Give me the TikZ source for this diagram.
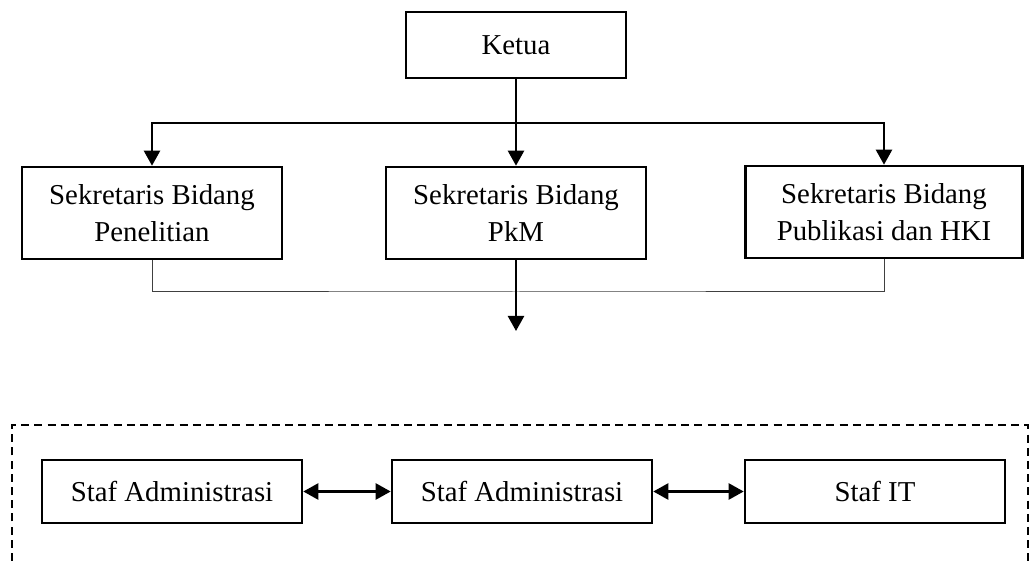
\documentclass[tikz,border=0pt]{standalone}
\usepackage{fontspec}
\setmainfont{Liberation Serif}
\usetikzlibrary{arrows.meta}
\begin{document}
\begin{tikzpicture}[x=0.5pt,y=-0.5pt,
  box/.style={draw=black, line width=1.3pt, align=center, inner sep=0pt,
    font=\fontsize{14.4}{18.5}\selectfont},
  topbox/.style={box, minimum width=110pt, minimum height=33pt},
  secbox/.style={box, minimum width=130pt, minimum height=46pt},
  stafbox/.style={box, minimum width=130pt, minimum height=31.5pt},
  arr/.style={line width=1.2pt, -{Triangle[length=7.5pt,width=8pt]}},
  biarr/.style={line width=1.2pt, {Triangle[length=7.5pt,width=8pt]}-{Triangle[length=7.5pt,width=8pt]}},
  thin/.style={line width=0.5pt, draw=black!75},
  dash box/.style={line width=0.9pt, dash pattern=on 4pt off 2.6pt}]
\useasboundingbox (0,0) rectangle (1029,561);
\node[topbox] (ketua) at (516,45) {Ketua};
\node[secbox] (s1) at (152,213) {Sekretaris Bidang\\Penelitian};
\node[secbox] (s2) at (516,213) {Sekretaris Bidang\\PkM};
\node[secbox, minimum width=138.5pt] (s3) at (884,212) {Sekretaris Bidang\\Publikasi dan HKI};
\coordinate (j) at (516,123);
\draw[line width=1.2pt] (ketua.south) -- (j);
\draw[arr] (j) -| (s1.north);
\draw[arr] (j) -- (s2.north);
\draw[arr] (j) -| (s3.north);
\coordinate (m) at (516,292);
\coordinate (e) at (516,331);
\draw[thin] (s1.south) |- (m) -| (s3.south);
\draw[arr] (s2.south) -- (e);
\draw[dash box] (12,561) -- (12,425) -- (1028,425) -- (1028,561);
\node[stafbox] (a1) at (172,491.5) {Staf Administrasi};
\node[stafbox] (a2) at (522,491.5) {Staf Administrasi};
\node[stafbox] (a3) at (875,491.5) {Staf IT};
\draw[biarr] (a1) -- (a2);
\draw[biarr] (a2) -- (a3);
\end{tikzpicture}
\end{document}
